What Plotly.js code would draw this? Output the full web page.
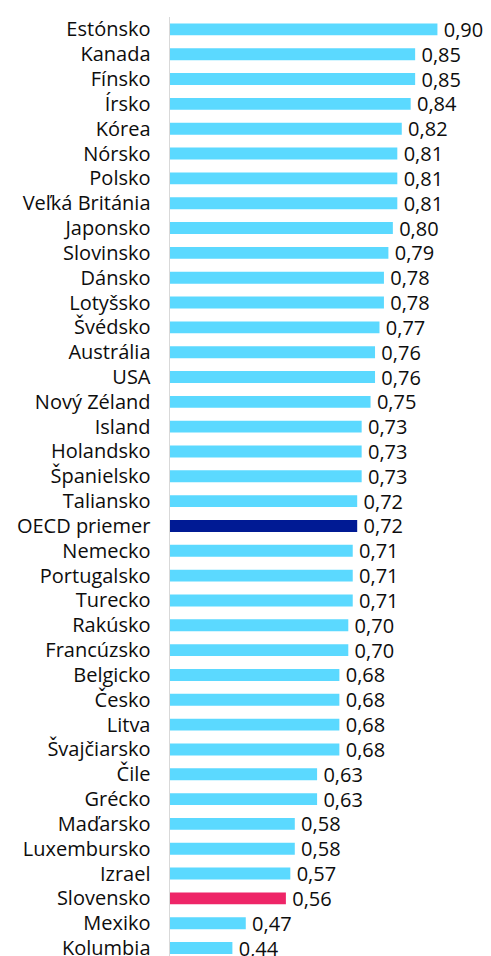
<!DOCTYPE html>
<html>
<head>
<meta charset="utf-8">
<script src="https://cdn.plot.ly/plotly-3.0.1.min.js"></script>
<style>
  html, body { margin: 0; padding: 0; background: #fff; }
  #chart { width: 491px; height: 956px; }
</style>
</head>
<body>
<div id="chart"></div>
<script>
const countries = [
  'Estónsko', 'Kanada', 'Fínsko', 'Írsko', 'Kórea', 'Nórsko', 'Polsko',
  'Veľká Británia', 'Japonsko', 'Slovinsko', 'Dánsko', 'Lotyšsko', 'Švédsko',
  'Austrália', 'USA', 'Nový Zéland', 'Island', 'Holandsko', 'Španielsko',
  'Taliansko', 'OECD priemer', 'Nemecko', 'Portugalsko', 'Turecko', 'Rakúsko',
  'Francúzsko', 'Belgicko', 'Česko', 'Litva', 'Švajčiarsko', 'Čile', 'Grécko',
  'Maďarsko', 'Luxembursko', 'Izrael', 'Slovensko', 'Mexiko', 'Kolumbia'
]
const values = [
  0.90, 0.85, 0.85, 0.84, 0.82, 0.81, 0.81,
  0.81, 0.80, 0.79, 0.78, 0.78, 0.77,
  0.76, 0.76, 0.75, 0.73, 0.73, 0.73,
  0.72, 0.72, 0.71, 0.71, 0.71, 0.70,
  0.70, 0.68, 0.68, 0.68, 0.68, 0.63, 0.63,
  0.58, 0.58, 0.57, 0.56, 0.47, 0.44
]

const base_color  = '#5bd9ff'
const oecd_color  = '#001a94'
const sk_color    = '#ee2567'
const font        = { family: 'Open Sans, sans-serif', size: 20, weight: 500, color: '#0d0d0d' }

const colors = countries.map(c => {
  if (c === 'OECD priemer') return oecd_color
  if (c === 'Slovensko') return sk_color
  return base_color
})
// thin space in front so the number sits a bit off the bar end
const labels = values.map(v => '\u2009' + v.toFixed(2).replace('.', ','))

const trace = {
  type: 'bar',
  orientation: 'h',
  x: values,
  y: countries,
  base: 0,
  marker: { color: colors },
  text: labels,
  textposition: 'outside',
  constraintext: 'none',
  cliponaxis: false,
  textfont: font,
  hoverinfo: 'none'
}

const layout = {
  width: 491,
  height: 956,
  margin: { l: 170, r: 9, t: 17, b: 0 },
  paper_bgcolor: '#ffffff',
  plot_bgcolor: '#ffffff',
  showlegend: false,
  bargap: 0.52,
  font: font,
  xaxis: {
    range: [0.30, 1.0],
    visible: false,
    fixedrange: true
  },
  yaxis: {
    type: 'category',
    range: [37.32, -0.5],
    showline: true,
    linecolor: '#d9d9d9',
    linewidth: 1.5,
    showgrid: false,
    ticks: '',
    ticklabelstandoff: 14,
    tickfont: font,
    fixedrange: true
  }
}

Plotly.newPlot('chart', [trace], layout, { displayModeBar: false, staticPlot: true })
</script>
</body>
</html>
